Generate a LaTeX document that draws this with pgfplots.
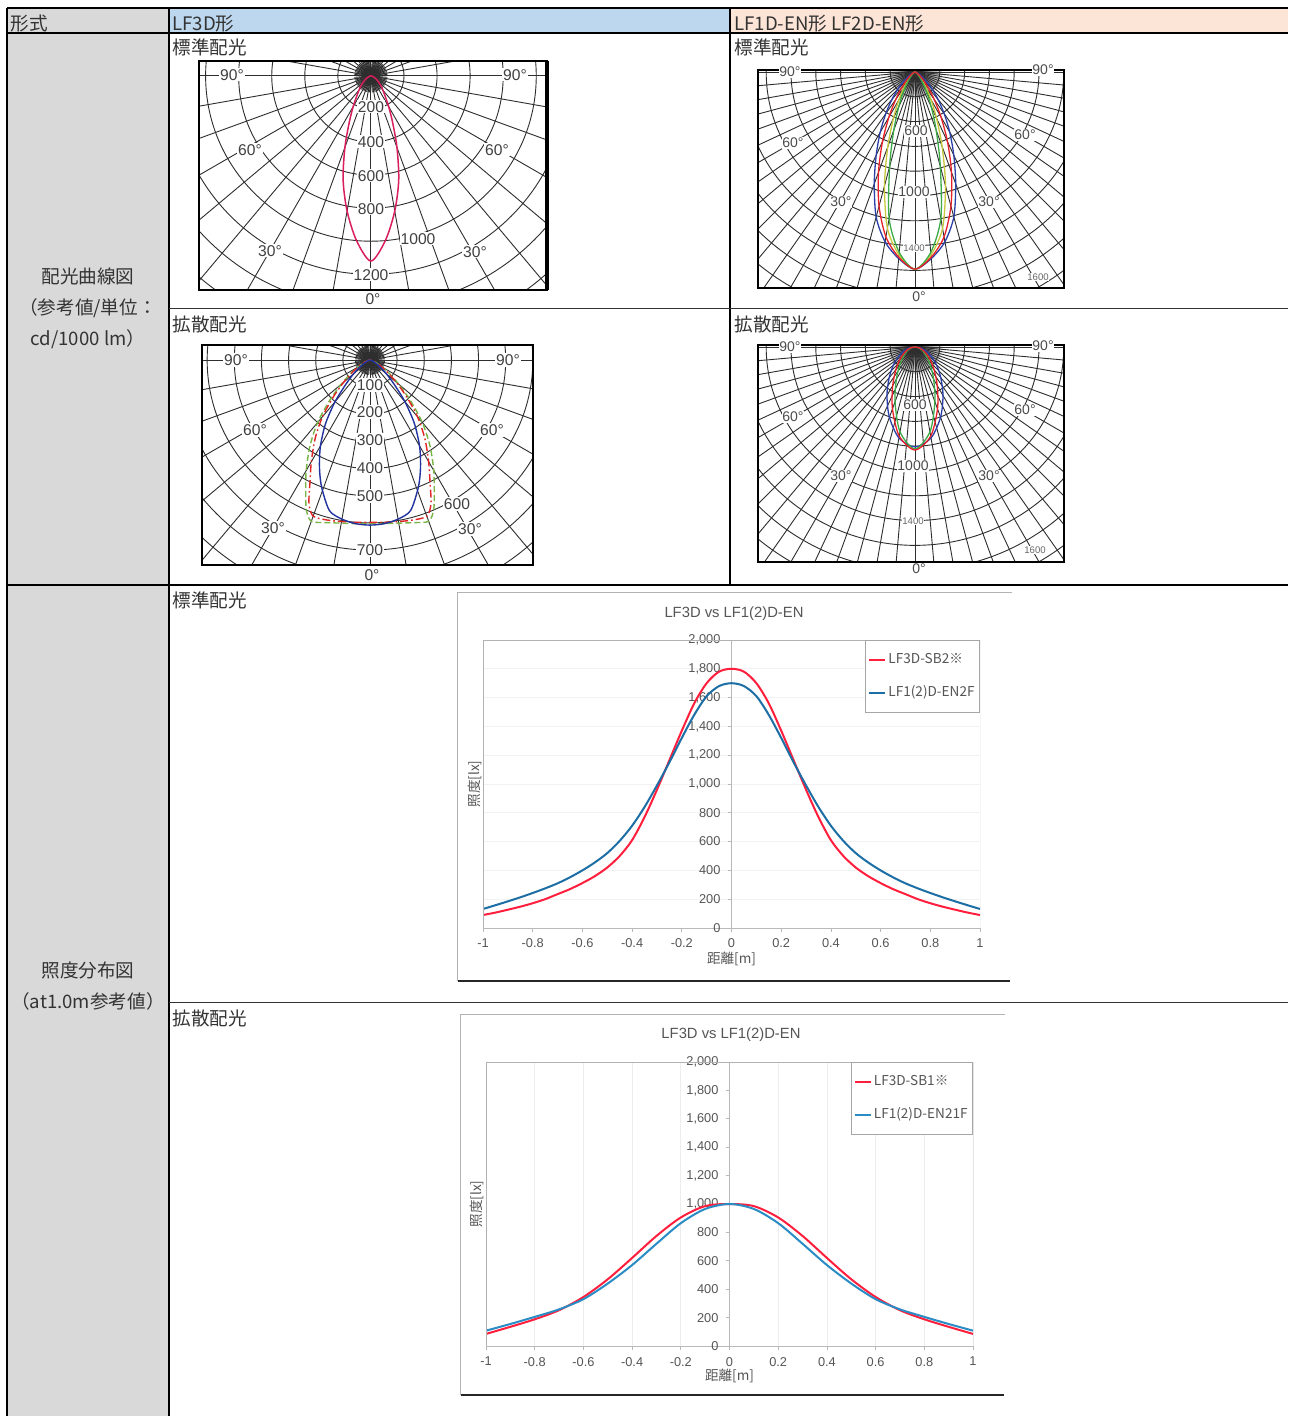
\documentclass[border=0pt]{standalone}
\usepackage{fontspec}
\setmainfont{Noto Sans CJK JP}
\newfontfamily\lib{Liberation Sans}
\newfontfamily\cjk{Noto Sans CJK JP}
\usepackage{pgfplots}
\usepackage{pgfplotstable}
\usepgfplotslibrary{polar}
\pgfplotsset{compat=1.18}

\definecolor{cellgray}{HTML}{D9D9D9}
\definecolor{hblue}{HTML}{BDD7EE}
\definecolor{hpeach}{HTML}{FCE4D6}
\definecolor{tabtxt}{HTML}{333333}
\definecolor{gridk}{HTML}{2E2E2E}
\definecolor{lfpink}{HTML}{D81E5B}
\definecolor{pblue}{HTML}{2B3FA8}
\definecolor{pred}{HTML}{E8202A}
\definecolor{pgreen}{HTML}{3CAA46}
\definecolor{pyellow}{HTML}{C8C83C}
\definecolor{dblue}{HTML}{2233A0}
\definecolor{dred}{HTML}{E02424}
\definecolor{dgreen}{HTML}{78B446}
\definecolor{cred}{HTML}{FF1F3D}
\definecolor{cblueA}{HTML}{1C6EA4}
\definecolor{cblueB}{HTML}{2A8CC4}
\definecolor{ctxt}{HTML}{555555}

% LF3D standard (angle from nadir, cd/1000lm)
\pgfplotstableread{
t I
-90 0
-80 5
-70 15
-60 35
-50 65
-45 86
-40 112
-35 150
-30 215
-25 310
-20 460
-15 650
-10 830
-5 1000
0 1120
5 1000
10 830
15 650
20 460
25 310
30 215
35 150
40 112
45 86
50 65
60 35
70 15
80 5
90 0
}\tStd

% LF3D diffuse
\pgfplotstableread{
t b r g
-90 0 0 0
-80 3 5 5
-70 10 18 18
-60 30 50 54
-55 50 80 88
-50 80 125 138
-45 125 190 210
-40 200 272 300
-35 285 352 385
-30 365 432 470
-26 425 505 540
-23 470 575 600
-20 512 612 632
-15 575 610 620
-10 595 604 610
-5 605 600 605
0 608 598 603
5 605 600 605
10 595 604 610
15 575 610 620
20 512 612 632
23 470 575 600
26 425 505 540
30 365 432 470
35 285 352 385
40 200 272 300
45 125 190 210
50 80 125 138
55 50 80 88
60 30 50 54
70 10 18 18
80 3 5 5
90 0 0 0
}\tDif

% LF1D-EN standard
\pgfplotstableread{
t b r g yl
-90 0 0 0 0
-80 4 2 1 1
-70 15 6 3 4
-60 45 20 8 10
-55 75 38 15 20
-50 125 60 25 32
-45 195 100 42 55
-40 290 170 70 95
-35 410 270 115 160
-30 560 420 190 260
-25 740 620 310 410
-20 960 860 500 640
-15 1210 1120 790 950
-10 1390 1350 1200 1280
-5 1510 1500 1460 1480
0 1590 1590 1590 1590
5 1510 1500 1460 1480
10 1390 1350 1200 1280
15 1210 1120 790 950
20 960 860 500 640
25 740 620 310 410
30 560 420 190 260
35 410 270 115 160
40 290 170 70 95
45 195 100 42 55
50 125 60 25 32
55 75 38 15 20
60 45 20 8 10
70 15 6 3 4
80 4 2 1 1
90 0 0 0 0
}\tS

% LF1D-EN diffuse
\pgfplotstableread{
t b r g
-90 0 0 0
-80 45 30 23
-70 94 63 48
-60 152 103 80
-50 227 159 125
-40 324 240 193
-30 452 359 300
-20 603 531 470
-10 745 730 695
0 806 831 823
10 745 730 695
20 603 531 470
30 452 359 300
40 324 240 193
50 227 159 125
60 152 103 80
70 94 63 48
80 45 30 23
90 0 0 0
}\tD

% illuminance, standard
\pgfplotstableread{
x r b
-1 90 132
-0.95 107 158
-0.9 127 185
-0.85 148 213
-0.8 172 243
-0.75 200 275
-0.7 235 310
-0.65 270 352
-0.6 312 400
-0.55 360 455
-0.5 420 520
-0.45 500 605
-0.4 610 710
-0.35 770 840
-0.3 960 990
-0.25 1165 1150
-0.2 1370 1320
-0.15 1560 1480
-0.1 1700 1610
-0.05 1780 1680
0 1800 1700
0.05 1780 1680
0.1 1700 1610
0.15 1560 1480
0.2 1370 1320
0.25 1165 1150
0.3 960 990
0.35 770 840
0.4 610 710
0.45 500 605
0.5 420 520
0.55 360 455
0.6 312 400
0.65 270 352
0.7 235 310
0.75 200 275
0.8 172 243
0.85 148 213
0.9 127 185
0.95 107 158
1 90 132
}\tLA

% illuminance, diffuse
\pgfplotstableread{
x r b
-1 85 108
-0.9 135 155
-0.8 188 205
-0.7 252 258
-0.6 345 330
-0.5 470 440
-0.4 620 570
-0.3 775 720
-0.2 905 865
-0.1 985 965
0 1000 1000
0.1 985 965
0.2 905 865
0.3 775 720
0.4 620 570
0.5 470 440
0.6 345 330
0.7 252 258
0.8 188 205
0.9 135 155
1 85 108
}\tLB

\pgfplotsset{
  polbase/.style={scale only axis, disabledatascaling, axis on top,
    xtick=\empty, ytick=\empty, anchor=south west,
    axis line style={black, line width=0.8pt}},
  chartbase/.style={scale only axis, anchor=south west,
    xmin=-1, xmax=1, ymin=0, ymax=2000,
    axis x line=bottom, axis y line=middle,
    axis line style={draw=gray!55, -},
    xtick={-1,-0.8,-0.6,-0.4,-0.2,0,0.2,0.4,0.6,0.8,1},
    ytick={0,200,...,2000},
    /pgf/number format/assume math mode=true,
    /pgf/number format/1000 sep={,},
    xticklabel style={/pgf/number format/fixed},
    hide obscured x ticks=false, hide obscured y ticks=false,
    tick style={gray!55, line width=0.4pt}, major tick length=2pt, tick align=outside,
    ticklabel style={font=\lib\fontsize{6.4}{7.5}\selectfont, text=ctxt},
    title style={font=\lib\fontsize{7.4}{9}\selectfont, text=ctxt, anchor=center},
    xlabel style={font=\cjk\fontsize{6.8}{8}\selectfont, text=ctxt, anchor=center},
    ylabel style={font=\cjk\fontsize{6.8}{8}\selectfont, text=ctxt, anchor=center, rotate=90},
    legend style={at={(1,1)}, anchor=north east, draw=gray!70, fill=white,
      font=\cjk\fontsize{6.8}{8}\selectfont, text=ctxt, row sep=5.5pt,
      inner xsep=1.5pt, inner ysep=4.5pt,
      nodes={inner xsep=1pt}},
    legend cell align=left,
    legend image code/.code={\draw[##1, line width=1pt] (0pt,0pt) -- (8pt,0pt);},
  },
}

\newcommand\pcircles[2]{\pgfplotsinvokeforeach{#1}{\draw[gridk, line width=#2] (axis cs:0,0) circle[radius=##1];}}
\newcommand\prays[3]{\pgfplotsinvokeforeach{#1}{\draw[gridk, line width=#3] (axis cs:0,0) -- (axis cs:{#2*cos(##1)},{#2*sin(##1)});}}

\tikzset{
  pl/.style={font=\lib\fontsize{7.8}{9}\selectfont, fill=white, inner sep=0.5pt, text=black!75},
  pls/.style={font=\lib\fontsize{7}{8}\selectfont, fill=white, inner sep=0.4pt, text=black!70},
  plt/.style={font=\lib\fontsize{4.8}{6}\selectfont, fill=white, inner sep=0.3pt, text=black!60},
}

\begin{document}
\begin{tikzpicture}[x=0.5pt,y=0.5pt, font=\fontsize{9.3}{11}\selectfont]
\useasboundingbox (0,0) rectangle (1288,1416);
\fill[white] (0,0) rectangle (1288,1416);
% cell backgrounds
\fill[cellgray] (7,1408) rectangle (169,0);
\fill[hblue] (169,1408) rectangle (730,1383);
\fill[hpeach] (730,1408) rectangle (1288,1383);

% ---------- LF3D standard polar ----------
\begin{axis}[polbase, x=0.08265pt, y=0.08265pt, xmin=-1040, xmax=1065, ymin=-1295, ymax=91, at={(99.5pt,563pt)}]
\pcircles{200,400,...,1600}{0.45pt}
\prays{0,10,...,350}{3000}{0.45pt}
\prays{0,5,...,355}{100}{0.45pt}
\addplot[lfpink, line width=0.75pt, smooth, data cs=polar] table[x expr=\thisrow{t}+270, y=I]{\tStd};
\end{axis}
\draw[black, line width=2pt] (546.5,1126) -- (546.5,1355);
\node[pl] at (232,1341) {90°};
\node[pl] at (515,1341) {90°};
\node[pl] at (250,1266) {60°};
\node[pl] at (497,1266) {60°};
\node[pl] at (270,1165) {30°};
\node[pl] at (475,1164) {30°};
\node[pl] at (373,1117) {0°};
\node[pl] at (371,1309) {200};
\node[pl] at (371,1274) {400};
\node[pl] at (371,1240) {600};
\node[pl] at (371,1207) {800};
\node[pl] at (418,1177) {1000};
\node[pl] at (371,1141) {1200};

% ---------- LF3D diffuse polar ----------
\begin{axis}[polbase, x=0.1357pt, y=0.1357pt, xmin=-619, xmax=601, ymin=-755, ymax=55, at={(101pt,425.5pt)}]
\pcircles{100,200,...,900}{0.45pt}
\prays{0,10,...,350}{2000}{0.45pt}
\prays{0,5,...,355}{55}{0.45pt}
\addplot[dgreen, line width=0.7pt, smooth, data cs=polar, dash pattern=on 3pt off 1.5pt] table[x expr=\thisrow{t}+270, y=g]{\tDif};
\addplot[dred, line width=0.7pt, smooth, data cs=polar, dash pattern=on 4pt off 1.5pt on 0.8pt off 1.5pt] table[x expr=\thisrow{t}+270, y=r]{\tDif};
\addplot[dblue, line width=0.7pt, smooth, data cs=polar] table[x expr=\thisrow{t}+270, y=b]{\tDif};
\end{axis}
\node[pl] at (236,1056) {90°};
\node[pl] at (508,1056) {90°};
\node[pl] at (255,986) {60°};
\node[pl] at (492,986) {60°};
\node[pl] at (273,888) {30°};
\node[pl] at (470,887) {30°};
\node[pl] at (372,841) {0°};
\node[pl] at (370,1031) {100};
\node[pl] at (370,1004) {200};
\node[pl] at (370,976) {300};
\node[pl] at (370,948) {400};
\node[pl] at (370,920) {500};
\node[pl] at (457,912) {600};
\node[pl] at (370,866) {700};

% ---------- LF1D-EN standard polar ----------
\begin{axis}[polbase, axis line style={black, line width=1.3pt}, x=0.062pt, y=0.062pt, xmin=-1266, xmax=1202, ymin=-1742, ymax=16, at={(379pt,564pt)}]
\shade[inner color=black!70, outer color=gray!20] (axis cs:0,0) circle[radius=220];
\pcircles{200,400,...,2200}{0.45pt}
\prays{0,5,...,355}{4000}{0.45pt}
\addplot[pblue, line width=0.65pt, smooth, data cs=polar] table[x expr=\thisrow{t}+270, y=b]{\tS};
\addplot[pyellow, line width=0.65pt, smooth, data cs=polar] table[x expr=\thisrow{t}+270, y=yl]{\tS};
\addplot[pgreen, line width=0.65pt, smooth, data cs=polar] table[x expr=\thisrow{t}+270, y=g]{\tS};
\addplot[pred, line width=0.65pt, smooth, data cs=polar] table[x expr=\thisrow{t}+270, y=r]{\tS};
\end{axis}
\node[pls] at (790,1344) {90°};
\node[pls] at (1043,1346) {90°};
\node[pls] at (793,1273) {60°};
\node[pls] at (1025,1281) {60°};
\node[pls] at (841,1214) {30°};
\node[pls] at (989,1214) {30°};
\node[pls] at (919,1119) {0°};
\node[pls] at (916,1285) {600};
\node[pls] at (914,1224) {1000};
\node[plt] at (914,1168) {1400};
\node[plt] at (1038,1139) {1600};

% ---------- LF1D-EN diffuse polar ----------
\begin{axis}[polbase, axis line style={black, line width=1.3pt}, x=0.062pt, y=0.062pt, xmin=-1266, xmax=1202, ymin=-1734, ymax=16, at={(379pt,427pt)}]
\shade[inner color=black!70, outer color=gray!20] (axis cs:0,0) circle[radius=220];
\pcircles{200,400,...,2200}{0.45pt}
\prays{0,5,...,355}{4000}{0.45pt}
\addplot[pblue, line width=0.65pt, smooth, data cs=polar] table[x expr=\thisrow{t}+270, y=b]{\tD};
\addplot[pgreen, line width=0.65pt, smooth, data cs=polar] table[x expr=\thisrow{t}+270, y=g]{\tD};
\addplot[pred, line width=0.65pt, smooth, data cs=polar] table[x expr=\thisrow{t}+270, y=r]{\tD};
\end{axis}
\node[pls] at (790,1069) {90°};
\node[pls] at (1043,1070) {90°};
\node[pls] at (793,999) {60°};
\node[pls] at (1025,1006) {60°};
\node[pls] at (841,940) {30°};
\node[pls] at (989,940) {30°};
\node[pls] at (919,847) {0°};
\node[pls] at (915,1011) {600};
\node[pls] at (913,950) {1000};
\node[plt] at (913,895) {1400};
\node[plt] at (1035,866) {1600};

% ---------- illuminance charts ----------
\draw[gray!60, line width=0.5pt] (1012,823.5) -- (457.5,823.5) -- (457.5,435);
\draw[black!85, line width=1pt] (457.5,435) -- (1010,435);
\begin{axis}[chartbase, width=248.5pt, height=144pt, at={(241.5pt,244pt)},
  ymajorgrids, major grid style={gray!10},
  title={LF3D vs LF1(2)D-EN}, title style={at={(axis description cs:0.505,1.051)}},
  xlabel={距離[m]}, xlabel style={at={(axis description cs:0.5,-0.108)}},
  ylabel={照度[lx]}, ylabel style={at={(axis description cs:-0.016,0.5)}}]
\addplot[cred, line width=1pt, smooth] table[x=x, y=r]{\tLA};
\addlegendentry{LF3D-SB2※}
\addplot[cblueA, line width=1pt, smooth] table[x=x, y=b]{\tLA};
\addlegendentry{LF1(2)D-EN2F}
\draw[gray!60, line width=0.4pt] (rel axis cs:0,0) -- (rel axis cs:0,1) -- (rel axis cs:1,1) -- (rel axis cs:1,0);
\end{axis}

\draw[gray!60, line width=0.5pt] (1005,401) -- (460.5,401) -- (460.5,21);
\draw[black!85, line width=1pt] (460.5,21) -- (1004,21);
\begin{axis}[chartbase, width=243.5pt, height=142pt, at={(243pt,35pt)},
  xmajorgrids, major grid style={gray!14},
  title={LF3D vs LF1(2)D-EN}, title style={at={(axis description cs:0.503,1.053)}},
  xlabel={距離[m]}, xlabel style={at={(axis description cs:0.5,-0.106)}},
  ylabel={照度[lx]}, ylabel style={at={(axis description cs:-0.0185,0.5)}}]
\addplot[cred, line width=1pt, smooth] table[x=x, y=r]{\tLB};
\addlegendentry{LF3D-SB1※}
\addplot[cblueB, line width=1pt, smooth] table[x=x, y=b]{\tLB};
\addlegendentry{LF1(2)D-EN21F}
\draw[gray!60, line width=0.4pt] (rel axis cs:0,0) -- (rel axis cs:0,1) -- (rel axis cs:1,1) -- (rel axis cs:1,0);
\end{axis}

% ---------- table lines ----------
\draw[black, line width=1.1pt] (7,1408) -- (1288,1408);
\draw[black, line width=0.8pt] (7,1383) -- (1288,1383);
\draw[black, line width=0.6pt] (7,1408) -- (7,0);
\draw[black, line width=0.6pt] (169,1408) -- (169,0);
\draw[black, line width=0.6pt] (730,1408) -- (730,831);
\draw[black!80, line width=0.5pt] (169,1107) -- (1288,1107);
\draw[black, line width=0.6pt] (7,831) -- (1288,831);
\draw[black!80, line width=0.5pt] (169,413) -- (1288,413);

% ---------- table texts ----------
\begin{scope}[every node/.style={text=tabtxt, inner sep=0pt}]
\node[anchor=west] at (10,1392) {形式};
\node[anchor=west] at (172,1392) {LF3D形};
\node[anchor=west] at (734,1392) {LF1D-EN形 LF2D-EN形};
\node[anchor=west] at (172,1369) {標準配光};
\node[anchor=west] at (734,1369) {標準配光};
\node[anchor=west] at (172,1092) {拡散配光};
\node[anchor=west] at (734,1092) {拡散配光};
\node[anchor=west] at (172,816) {標準配光};
\node[anchor=west] at (172,398) {拡散配光};
\node[align=center, font=\fontsize{9.3}{15.5}\selectfont] at (88,1108) {配光曲線図\\（参考値/単位：\\cd/1000 lm）};
\node[align=center, font=\fontsize{9.3}{15.5}\selectfont] at (88,430) {照度分布図\\（at1.0m参考値）};
\end{scope}
\end{tikzpicture}
\end{document}
